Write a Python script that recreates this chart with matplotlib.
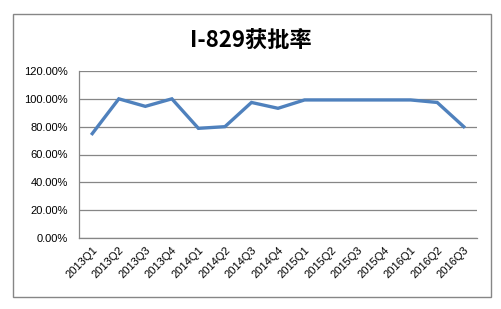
import matplotlib
matplotlib.use("Agg")
import matplotlib.pyplot as plt
from matplotlib.patches import Rectangle
from matplotlib.ticker import FuncFormatter

quarters = ["2013Q1", "2013Q2", "2013Q3", "2013Q4",
            "2014Q1", "2014Q2", "2014Q3", "2014Q4",
            "2015Q1", "2015Q2", "2015Q3", "2015Q4",
            "2016Q1", "2016Q2", "2016Q3"]
approval_rate = [75.0, 100.0, 94.6, 100.0,
                 78.8, 80.0, 97.4, 93.2,
                 99.2, 99.2, 99.2, 99.2,
                 99.2, 97.4, 80.0]
title = "I-829获批率"

plt.rcParams['font.family'] = ['Liberation Sans', 'Noto Sans CJK SC', 'DejaVu Sans']

fig = plt.figure(figsize=(5.01, 3.09), dpi=100)

# outer chart border
fig.patches.append(Rectangle((13 / 501, 12 / 309), 478 / 501, 283 / 309,
                             transform=fig.transFigure, fill=False,
                             edgecolor='#868686', linewidth=1.0))

ax = fig.add_axes([79 / 501, 71 / 309, 398 / 501, 167 / 309])
x = range(len(quarters))
ax.plot(x, approval_rate, color='#4F81BD', linewidth=2.4, solid_joinstyle='miter')

ax.set_xlim(-0.5, len(quarters) - 0.5)
ax.set_ylim(0, 120)
ax.set_yticks(range(0, 121, 20))
ax.yaxis.set_major_formatter(FuncFormatter(lambda v, p: f"{v:.2f}%"))
ax.set_xticks(list(x))
ax.set_xticklabels(quarters, rotation=45, ha='right', rotation_mode='anchor')
ax.tick_params(axis='both', length=0, labelsize=8, colors='black')
ax.tick_params(axis='y', pad=8)
ax.tick_params(axis='x', pad=5)

ax.grid(axis='y', color='#868686', linewidth=0.9)
ax.set_axisbelow(True)
for side in ['top', 'right']:
    ax.spines[side].set_visible(False)
for side in ['left', 'bottom']:
    ax.spines[side].set_color('#868686')
    ax.spines[side].set_linewidth(0.9)

fig.text(0.5, 1 - 40 / 309, title, ha='center', va='center', fontsize=16,
         fontweight='bold', family=['Noto Sans CJK SC', 'DejaVu Sans'])

fig.savefig("out.png", dpi=100)
